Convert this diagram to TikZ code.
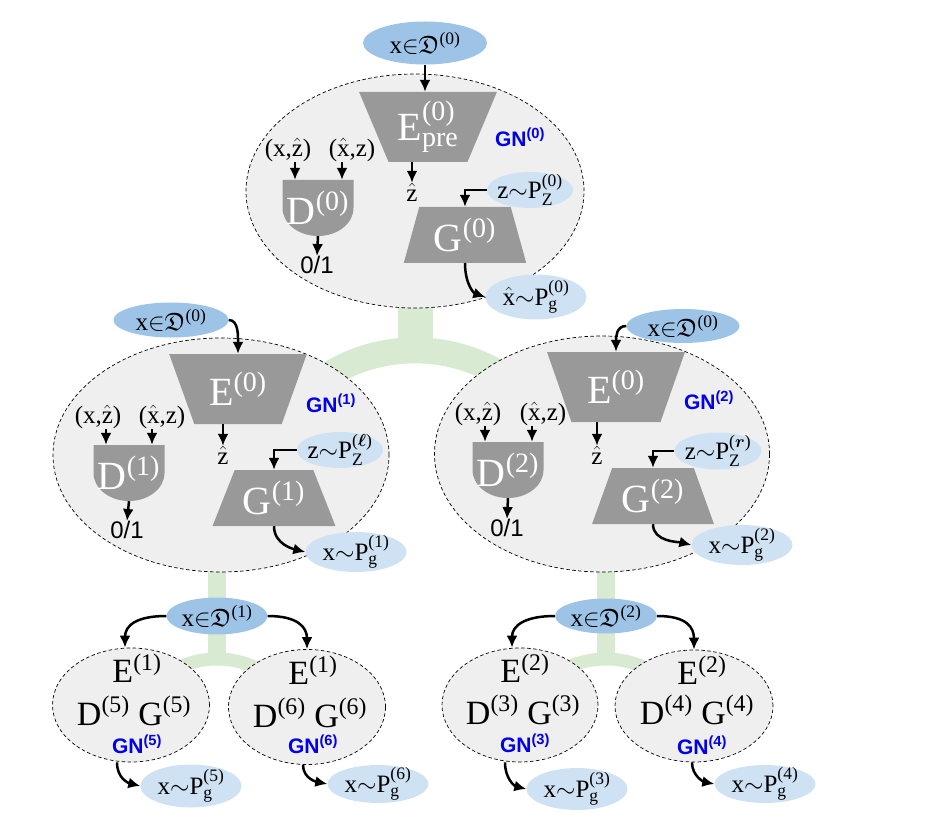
\documentclass[tikz,border=0pt]{standalone}
\usepackage{fix-cm}
\usepackage{amsmath}
\usepackage{amssymb}
\usepackage[no-math]{fontspec}
\setmainfont{Liberation Serif}
\newfontfamily\gnfont{Liberation Sans}
\usetikzlibrary{calc}
\usetikzlibrary{shapes.geometric}
\usetikzlibrary{arrows.meta}
\usetikzlibrary{backgrounds}

\definecolor{gnfill}{RGB}{239,239,239}
\definecolor{netgray}{RGB}{153,153,153}
\definecolor{datablue}{RGB}{157,195,230}
\definecolor{sampblue}{RGB}{207,226,243}
\definecolor{linkgreen}{RGB}{217,234,211}
\definecolor{gnblue}{RGB}{0,0,235}

\newcommand{\labsize}{\fontsize{25}{30}\selectfont}
\newcommand{\netsize}{\fontsize{40}{46}\selectfont}
\newcommand{\subnetsize}{\fontsize{34}{40}\selectfont}
\newcommand{\binsize}{\gnfont\fontsize{24}{28}\selectfont}
\newcommand{\gnsize}{\gnfont\bfseries\fontsize{21}{24}\selectfont}

\tikzset{
 gnet/.style={ellipse, draw=black, line width=0.7pt, dash pattern=on 3.5pt off 2.5pt, fill=gnfill, inner sep=0pt},
 datain/.style={ellipse, fill=datablue, inner xsep=0pt, inner ysep=-4pt, minimum width=112pt, minimum height=36pt, font=\labsize},
 sample/.style={ellipse, fill=sampblue, inner xsep=-3pt, inner ysep=-4pt, minimum width=101pt, minimum height=40pt, font=\labsize},
 encnet/.style={trapezium, trapezium stretches=true, shape border rotate=180, trapezium angle=#1, minimum width=138pt, minimum height=70pt, fill=netgray, text=white, inner sep=0pt, font=\netsize},
 encnet/.default=65,
 gennet/.style={trapezium, trapezium stretches=true, trapezium angle=#1, minimum width=123pt, minimum height=56pt, fill=netgray, text=white, inner sep=0pt, font=\netsize},
 gennet/.default=66,
 discbox/.style={minimum width=71pt, minimum height=56pt, inner sep=0pt, text=white, font=\netsize},
 lab/.style={inner sep=0pt, font=\labsize},
 bin/.style={inner sep=0pt, font=\binsize},
 gnlab/.style={inner sep=0pt, text=gnblue, font=\gnsize},
 subnet/.style={inner sep=0pt, font=\subnetsize},
 arr/.style={-{Latex[length=12pt,width=11pt]}, line width=2.5pt},
 treelink/.style={draw=linkgreen, line width=#1}
}

\newcommand{\discnet}[3]{%
 \fill[netgray] ($(#2)+(-35.5,-28)$) -- ++(71,0) -- ++(0,28) arc[start angle=0, end angle=180, x radius=35.5, y radius=28] -- cycle;
 \node[discbox] (#1) at (#2) {#3};
}

\begin{document}
\begin{tikzpicture}[x=1pt,y=-1pt]
\useasboundingbox (0,0) rectangle (940,821);

\node[gnet, minimum width=338pt, minimum height=234pt] (gn0) at (415,191) {};
\node[datain, minimum width=124pt, minimum height=43pt] (xd0) at (425,43) {x${\in}\mathfrak{D}^{\text{(0)}}$};
\node[encnet=66] (e0) at (428,127) {E$^{\text{(0)}}_{\text{pre}}$};
\node[gnlab] (lgn0) at (520,137) {GN\textsuperscript{(0)}};
\node[lab] (xz0) at (288,150) {(x,$\hat{\text{z}}$)};
\node[lab] (xhz0) at (352,150) {($\hat{\text{x}}$,z)};
\discnet{d0}{318,208}{D$^{\text{(0)}}$}
\node[bin] (o0) at (317,265) {0/1};
\node[lab] (zh0) at (412,192) {$\hat{\text{z}}$};
\node[sample, minimum width=86pt, minimum height=36pt] (zp0) at (530,190) {z${\sim}$P$^{\text{(0)}}_{\text{Z}}$};
\node[gennet=73] (g0) at (465,235) {G$^{\text{(0)}}$};
\node[sample, minimum height=45pt] (pg0) at (536,297) {$\hat{\text{x}}{\sim}$P$^{\text{(0)}}_{\text{g}}$};
\draw[arr] (xd0.south) -- (xd0.south |- e0.north);
\draw[arr] ($(xz0.south)+(7,0)$) -- ($(xz0.south |- d0.north)+(7,0)$);
\draw[arr] ($(xhz0.south)+(-10,0)$) -- ($(xhz0.south |- d0.north)+(-10,0)$);
\draw[arr] (d0.south) -- (o0.north);
\draw[arr] (zh0 |- e0.south) -- (zh0.north);
\draw[arr] (zp0.west) -| (g0.north);
\draw[arr] (g0.south) .. controls +(0,20) and +(-12,-4) .. (pg0.west);

\node[gnet, minimum width=336pt, minimum height=234pt] (gn1) at (221,455) {};
\node[datain, minimum width=115pt, minimum height=35pt] (xd1a) at (171,320) {x${\in}\mathfrak{D}^{\text{(0)}}$};
\node[encnet=64] (e1) at (238,389) {E$^{\text{(0)}}$};
\node[gnlab] (lgn1) at (331,403) {GN\textsuperscript{(1)}};
\node[lab] (xz1) at (98,417) {(x,$\hat{\text{z}}$)};
\node[lab] (xhz1) at (162,417) {($\hat{\text{x}}$,z)};
\discnet{d1}{129,473}{D$^{\text{(1)}}$}
\node[bin] (o1) at (127,530) {0/1};
\node[lab] (zh1) at (223,455) {$\hat{\text{z}}$};
\node[sample, minimum width=86pt, minimum height=36pt] (zp1) at (340,450) {z${\sim}$P$^{\text{(}\boldsymbol{\ell}\text{)}}_{\text{Z}}$};
\node[gennet=63] (g1) at (274,498) {G$^{\text{(1)}}$};
\node[sample] (pg1) at (356,552) {x${\sim}$P$^{\text{(1)}}_{\text{g}}$};
\draw[arr] (xd1a.east) .. controls +(10,0) and +(0,-18) .. (e1.north);
\draw[arr] ($(xz1.south)+(8,0)$) -- ($(xz1.south |- d1.north)+(8,0)$);
\draw[arr] ($(xhz1.south)+(-10,0)$) -- ($(xhz1.south |- d1.north)+(-10,0)$);
\draw[arr] (d1.south) -- (o1.north);
\draw[arr] (zh1 |- e1.south) -- (zh1.north);
\draw[arr] (zp1.west) -| (g1.north);
\draw[arr] (g1.south) .. controls +(0,18) and +(-12,-3) .. (pg1.west);

\node[gnet, minimum width=335pt, minimum height=236pt] (gn2) at (602,454) {};
\node[datain, minimum width=113pt, minimum height=34pt] (xd2a) at (683,326) {x${\in}\mathfrak{D}^{\text{(0)}}$};
\node[encnet=65] (e2) at (616,387) {E$^{\text{(0)}}$};
\node[gnlab] (lgn2) at (709,400) {GN\textsuperscript{(2)}};
\node[lab] (xz2) at (478,414) {(x,$\hat{\text{z}}$)};
\node[lab] (xhz2) at (543,414) {($\hat{\text{x}}$,z)};
\discnet{d2}{508,470}{D$^{\text{(2)}}$}
\node[bin] (o2) at (507,528) {0/1};
\node[lab] (zh2) at (597,455) {$\hat{\text{z}}$};
\node[sample, minimum width=87pt, minimum height=37pt] (zp2) at (718,451) {z${\sim}$P$^{\text{(}\boldsymbol{r}\text{)}}_{\text{Z}}$};
\node[gennet=66] (g2) at (653,496) {G$^{\text{(2)}}$};
\node[sample] (pg2) at (742,545) {x${\sim}$P$^{\text{(2)}}_{\text{g}}$};
\draw[arr] (xd2a.west) .. controls +(-10,0) and +(0,-15) .. (e2.north);
\draw[arr] ($(xz2.south)+(7,0)$) -- ($(xz2.south |- d2.north)+(7,0)$);
\draw[arr] ($(xhz2.south)+(-11,0)$) -- ($(xhz2.south |- d2.north)+(-11,0)$);
\draw[arr] (d2.south) -- (o2.north);
\draw[arr] (zh2 |- e2.south) -- (zh2.north);
\draw[arr] (zp2.west) -| (g2.north);
\draw[arr] (g2.south) .. controls +(0,18) and +(-12,-3) .. (pg2.west);

\node[datain, minimum width=101pt, minimum height=37pt] (xd1) at (217,616) {x${\in}\mathfrak{D}^{\text{(1)}}$};
\node[gnet, minimum width=157pt, minimum height=114pt] (gn5) at (131,705) {};
\node[subnet] (e5) at ($(gn5)+(6,-37)$) {E$^{\text{(1)}}$};
\node[subnet] (dg5) at ($(gn5)+(3,6)$) {D$^{\text{(5)}}$ G$^{\text{(5)}}$};
\node[gnlab] (lgn5) at ($(gn5)+(6,39)$) {GN\textsuperscript{(5)}};
\node[sample, minimum height=43pt] (pg5) at (191,786) {x${\sim}$P$^{\text{(5)}}_{\text{g}}$};
\node[gnet, minimum width=157pt, minimum height=115pt] (gn6) at (307,707) {};
\node[subnet] (e6) at ($(gn6)+(6,-37)$) {E$^{\text{(1)}}$};
\node[subnet] (dg6) at ($(gn6)+(3,6)$) {D$^{\text{(6)}}$ G$^{\text{(6)}}$};
\node[gnlab] (lgn6) at ($(gn6)+(6,37)$) {GN\textsuperscript{(6)}};
\node[sample, minimum height=38pt] (pg6) at (378,784) {x${\sim}$P$^{\text{(6)}}_{\text{g}}$};
\draw[arr] (xd1.west) .. controls +(-30,0) and +(0,-22) .. ([xshift=-6pt]gn5.north);
\draw[arr] (xd1.east) .. controls +(30,0) and +(0,-22) .. (gn6.north);
\draw[arr] ([xshift=-14pt]gn5.south) .. controls +(0,16) and +(-12,-3) .. (pg5.west);
\draw[arr] ([xshift=-4pt]gn6.south) .. controls +(0,14) and +(-10,-2) .. (pg6.west);

\node[datain, minimum width=102pt, minimum height=35pt] (xd2) at (606,616) {x${\in}\mathfrak{D}^{\text{(2)}}$};
\node[gnet, minimum width=156pt, minimum height=114pt] (gn3) at (520,705) {};
\node[subnet] (e3) at ($(gn3)+(5,-37)$) {E$^{\text{(2)}}$};
\node[subnet] (dg3) at ($(gn3)+(3,5)$) {D$^{\text{(3)}}$ G$^{\text{(3)}}$};
\node[gnlab] (lgn3) at ($(gn3)+(5,38)$) {GN\textsuperscript{(3)}};
\node[sample, minimum height=42pt] (pg3) at (577,789) {x${\sim}$P$^{\text{(3)}}_{\text{g}}$};
\node[gnet, minimum width=158pt, minimum height=112pt] (gn4) at (694,706) {};
\node[subnet] (e4) at ($(gn4)+(8,-36)$) {E$^{\text{(2)}}$};
\node[subnet] (dg4) at ($(gn4)+(3,4)$) {D$^{\text{(4)}}$ G$^{\text{(4)}}$};
\node[gnlab] (lgn4) at ($(gn4)+(8,39)$) {GN\textsuperscript{(4)}};
\node[sample, minimum height=38pt] (pg4) at (765,784) {x${\sim}$P$^{\text{(4)}}_{\text{g}}$};
\draw[arr] (xd2.west) .. controls +(-30,0) and +(0,-22) .. ([xshift=-8pt]gn3.north);
\draw[arr] (xd2.east) .. controls +(30,0) and +(0,-22) .. (gn4.north);
\draw[arr] ([xshift=-15pt]gn3.south) .. controls +(0,16) and +(-12,-3) .. (pg3.west);
\draw[arr] ([xshift=-2pt]gn4.south) .. controls +(0,14) and +(-10,-2) .. (pg4.west);

\begin{scope}[on background layer]
 \draw[treelink=35pt] ($(gn0.south)+(0,-10)$) -- ++(0,55);
 \draw[treelink=26pt] ($(gn0.south)+(0,207)$) ++(230:165) arc[start angle=230, end angle=310, radius=165];
 \draw[treelink=18pt] ($(xd1 |- gn1.south)+(0,-10)$) -- ++(0,103);
 \draw[treelink=13pt] ($(xd1)+(0,134)$) ++(235:91) arc[start angle=235, end angle=305, radius=91];
 \draw[treelink=18pt] ($(xd2 |- gn2.south)+(0,-10)$) -- ++(0,103);
 \draw[treelink=13pt] ($(xd2)+(0,134)$) ++(235:91) arc[start angle=235, end angle=305, radius=91];
\end{scope}
\end{tikzpicture}
\end{document}
